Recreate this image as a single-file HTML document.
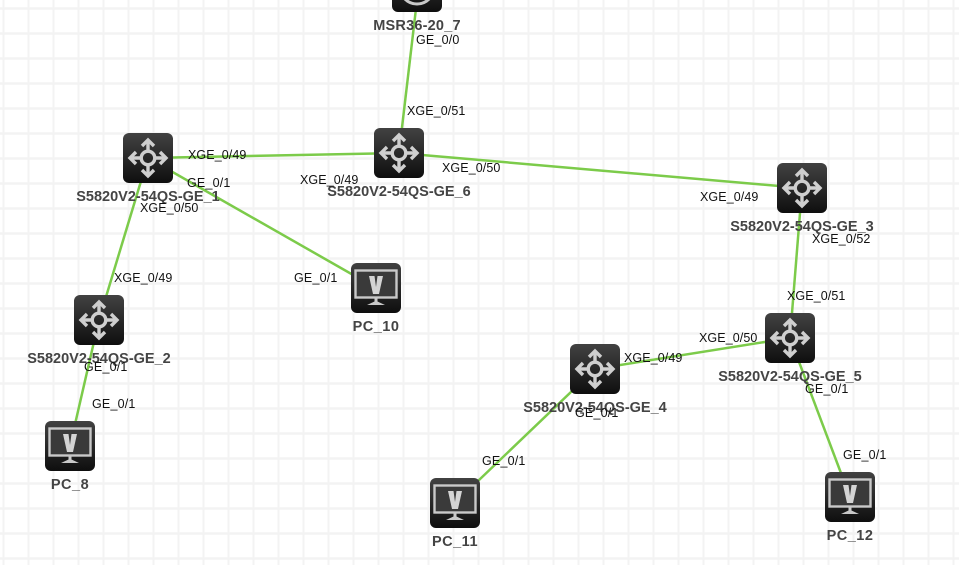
<!DOCTYPE html>
<html><head><meta charset="utf-8"><style>
html,body{margin:0;padding:0;background:#fff;width:959px;height:565px;overflow:hidden}
svg{display:block}
text{font-family:"Liberation Sans",sans-serif}
.n{font-size:14.500px;font-weight:bold;fill:#444;text-anchor:middle}
.p{letter-spacing:.5px}
.m{letter-spacing:.2px}
.e{font-size:12.500px;fill:#111;letter-spacing:.1px}
.f{letter-spacing:.2px}
.l{stroke:#7ccb4a;stroke-width:2.500;fill:none}
</style></head><body>
<svg width="959" height="565" viewBox="0 0 959 565" xmlns="http://www.w3.org/2000/svg">
<defs>
<pattern id="g" x="2.500" y="7.300" width="25" height="25" patternUnits="userSpaceOnUse">
<rect x="0" y="0" width="2" height="25" fill="#f3f3f3"/><rect x="0" y="0" width="25" height="2.500" fill="#f3f3f3"/>
</pattern>
<linearGradient id="b" x1="0" y1="0" x2="0" y2="1"><stop offset="0" stop-color="#424242"/><stop offset="1" stop-color="#0e0e0e"/></linearGradient>
<g id="sw">
<rect width="50" height="50" rx="6" fill="url(#b)"/>
<g fill="none" stroke="#cfcfcf" stroke-width="3.400">
<circle cx="25" cy="25" r="6.800"/>
<path d="M25 18V8M25 32V42M18 25H8M32 25H42"/>
<path d="M19 13L25 7L31 13M19 37L25 43L31 37M13 19L7 25L13 31M37 19L43 25L37 31"/>
</g></g>
<g id="pc">
<rect width="50" height="50" rx="6" fill="url(#b)"/>
<rect x="4.500" y="7.500" width="41" height="27" fill="#3a3a3a" stroke="#c9c9c9" stroke-width="2.400"/>
<path d="M18 13H23.500L25 24L26.500 13H32L28 31H22Z" fill="#d4d4d4"/>
<path d="M23.500 34H26.500V38.500L34 42H16L23.500 38.500Z" fill="#c9c9c9"/>
</g>
</defs>
<rect width="959" height="565" fill="#fff"/>
<rect width="959" height="565" fill="url(#g)"/>

<g class="l">
<line x1="417" y1="0" x2="399" y2="153"/>
<line x1="148" y1="158" x2="399" y2="153"/>
<line x1="399" y1="153" x2="802" y2="188"/>
<line x1="148" y1="158" x2="99" y2="320"/>
<line x1="148" y1="158" x2="376" y2="288"/>
<line x1="99" y1="320" x2="70" y2="446"/>
<line x1="802" y1="188" x2="790" y2="338"/>
<line x1="790" y1="338" x2="595" y2="369"/>
<line x1="790" y1="338" x2="850" y2="497"/>
<line x1="595" y1="369" x2="455" y2="503"/>
</g>

<rect x="392" y="-38" width="50" height="50" rx="6" fill="url(#b)"/>
<circle cx="417" cy="-13" r="17" fill="none" stroke="#c9c9c9" stroke-width="3"/>
<use href="#sw" x="123" y="133"/>
<use href="#sw" x="374" y="128"/>
<use href="#sw" x="777" y="163"/>
<use href="#sw" x="74" y="295"/>
<use href="#sw" x="765" y="313"/>
<use href="#sw" x="570" y="344"/>
<use href="#pc" x="351" y="263"/>
<use href="#pc" x="45" y="421"/>
<use href="#pc" x="430" y="478"/>
<use href="#pc" x="825" y="472"/>

<text class="n m" x="417" y="30">MSR36-20_7</text>
<text class="n" x="148" y="201">S5820V2-54QS-GE_1</text>
<text class="n" x="399" y="196">S5820V2-54QS-GE_6</text>
<text class="n" x="802" y="231">S5820V2-54QS-GE_3</text>
<text class="n" x="99" y="363">S5820V2-54QS-GE_2</text>
<text class="n" x="790" y="381">S5820V2-54QS-GE_5</text>
<text class="n" x="595" y="412">S5820V2-54QS-GE_4</text>
<text class="n p" x="376" y="331">PC_10</text>
<text class="n p" x="70" y="489">PC_8</text>
<text class="n p" x="455" y="546">PC_11</text>
<text class="n p" x="850" y="540">PC_12</text>

<text class="e f" x="416" y="44">GE_0/0</text>
<text class="e" x="407" y="115">XGE_0/51</text>
<text class="e" x="188" y="159">XGE_0/49</text>
<text class="e f" x="187" y="187">GE_0/1</text>
<text class="e" x="300" y="184">XGE_0/49</text>
<text class="e" x="442" y="172">XGE_0/50</text>
<text class="e" x="140" y="212">XGE_0/50</text>
<text class="e" x="700" y="201">XGE_0/49</text>
<text class="e" x="812" y="243">XGE_0/52</text>
<text class="e" x="114" y="282">XGE_0/49</text>
<text class="e f" x="294" y="282">GE_0/1</text>
<text class="e" x="787" y="300">XGE_0/51</text>
<text class="e" x="699" y="342">XGE_0/50</text>
<text class="e" x="624" y="362">XGE_0/49</text>
<text class="e f" x="84" y="371">GE_0/1</text>
<text class="e f" x="805" y="393">GE_0/1</text>
<text class="e f" x="92" y="408">GE_0/1</text>
<text class="e f" x="575" y="417">GE_0/1</text>
<text class="e f" x="843" y="459">GE_0/1</text>
<text class="e f" x="482" y="465">GE_0/1</text>
</svg>
</body></html>
